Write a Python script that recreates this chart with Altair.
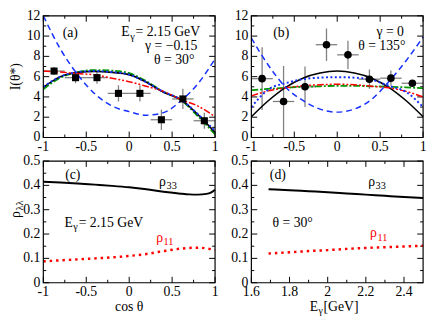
import altair as alt
import pandas as pd

FONT = "'Liberation Serif', 'Times New Roman', serif"

# ---------------- data ----------------
bins = [-0.875, -0.625, -0.375, -0.125, 0.125, 0.375, 0.625, 0.875]
bin_half = [0.125, 0.125, 0.125, 0.125, 0.125, 0.125, 0.125, 0.125]

a_pts_y = [6.55, 5.9, 5.9, 4.35, 4.35, 1.75, 3.8, 1.65]
a_pts_err = [0.4, 0.55, 0.6, 0.8, 0.8, 1.0, 1.0, 0.8]
b_pts_y = [5.8, 3.55, 5.0, 9.15, 8.15, 5.75, 5.85, 5.35]
b_pts_err = [3.1, 3.5, 2.0, 1.6, 1.4, 0.95, 0.75, 0.3]

cos_grid = [-1.0, -0.8, -0.6, -0.4, -0.2, 0.0, 0.2, 0.4, 0.6, 0.8, 1.0]
a_black = [4.95, 6.0, 6.4, 6.5, 6.42, 6.2, 5.45, 4.45, 3.75, 2.25, 0.5]
a_green = [4.75, 5.9, 6.45, 6.65, 6.6, 6.35, 5.55, 4.5, 3.7, 2.1, 0.3]
a_bdot = [5.0, 6.0, 6.45, 6.55, 6.45, 6.2, 5.45, 4.5, 3.75, 2.3, 0.65]
a_red = [6.55, 6.45, 6.3, 6.18, 5.85, 5.5, 5.05, 4.55, 3.75, 3.1, 2.05]
a_bdash = [12.0, 8.7, 6.2, 4.3, 3.1, 2.55, 2.2, 2.45, 3.6, 5.3, 7.75]

b_black = [2.05, 3.65, 4.95, 5.85, 6.35, 6.55, 6.35, 5.85, 4.95, 3.65, 2.05]
b_bdash = [9.8, 7.1, 4.95, 3.65, 2.8, 2.5, 2.8, 3.75, 5.5, 7.55, 9.9]
b_bdot = [3.0, 4.75, 5.35, 5.75, 5.9, 5.95, 5.9, 5.7, 5.1, 4.5, 3.0]
b_red = [4.1, 4.6, 4.9, 5.1, 5.2, 5.25, 5.2, 5.05, 4.9, 4.55, 4.0]
b_green = [4.65, 4.8, 4.9, 5.0, 5.05, 5.1, 5.1, 5.05, 5.0, 4.95, 4.85]

c_grid = [-1.0, -0.8, -0.6, -0.4, -0.2, 0.0, 0.2, 0.4, 0.6, 0.7, 0.8, 0.9, 0.95, 1.0]
c_rho33 = [0.415, 0.412, 0.408, 0.403, 0.398, 0.392, 0.384, 0.374, 0.366, 0.363, 0.362, 0.365, 0.37, 0.382]
c_rho11 = [0.088, 0.092, 0.096, 0.1, 0.104, 0.11, 0.118, 0.13, 0.14, 0.143, 0.144, 0.141, 0.138, 0.134]

d_grid = [1.69, 1.8, 1.9, 2.0, 2.1, 2.2, 2.3, 2.4, 2.5]
d_rho33 = [0.384, 0.38, 0.376, 0.372, 0.367, 0.362, 0.357, 0.352, 0.348]
d_rho11 = [0.12, 0.125, 0.13, 0.134, 0.139, 0.143, 0.146, 0.149, 0.152]

# tick values / labels
cos_major = [-1, -0.5, 0, 0.5, 1]
cos_labels = ["-1", "-0.5", "0", "0.5", "1"]
cos_minor = [-0.75, -0.25, 0.25, 0.75]
i_major = [0, 2, 4, 6, 8, 10, 12]
i_labels = ["0", "2", "4", "6", "8", "10", "12"]
i_minor = [1, 3, 5, 7, 9, 11]
rho_major = [0, 0.1, 0.2, 0.3, 0.4, 0.5]
rho_labels = ["0", "0.1", "0.2", "0.3", "0.4", "0.5"]
rho_minor = [0.05, 0.15, 0.25, 0.35, 0.45]
e_major = [1.6, 1.8, 2.0, 2.2, 2.4]
e_labels = ["1.6", "1.8", "2", "2.2", "2.4"]
e_minor = [1.7, 1.9, 2.1, 2.3]

# ---------------- layout (pixels inside the svg) ----------------
W, H = 428, 310
XL = [36, 211]     # left column
XR = [248, 423]    # right column
YT = [129, 5]      # top row (bottom, top)
YB = [277, 153]    # bottom row
BLUE = "#1530ff"
RED = "#ff0000"
GREEN = "#009a00"
GRAY = "#808080"
MAJ, MIN = 6, 3
FS = 14


def panel(xdom, xr, ydom, yr, xmaj, xlab, xmin, ymaj, ylab, ymin, content):
    xs = alt.Scale(domain=xdom, range=xr, nice=False, zero=False)
    ys = alt.Scale(domain=ydom, range=yr, nice=False, zero=False)
    x0, x1 = xr
    ybot, ytop = yr
    X = lambda f: alt.X(f, scale=xs, axis=None)
    Y = lambda f: alt.Y(f, scale=ys, axis=None)
    layers = []
    for vals, L in ((xmaj, MAJ), (xmin, MIN)):
        base = alt.Chart(pd.DataFrame({"t": vals})).mark_rule(color="black", strokeWidth=1)
        layers.append(base.encode(x=X("t:Q"), y=alt.value(ybot), y2=alt.value(ybot - L)))
        layers.append(base.encode(x=X("t:Q"), y=alt.value(ytop), y2=alt.value(ytop + L)))
    for vals, L in ((ymaj, MAJ), (ymin, MIN)):
        base = alt.Chart(pd.DataFrame({"t": vals})).mark_rule(color="black", strokeWidth=1)
        layers.append(base.encode(y=Y("t:Q"), x=alt.value(x0), x2=alt.value(x0 + L)))
        layers.append(base.encode(y=Y("t:Q"), x=alt.value(x1), x2=alt.value(x1 - L)))
    layers.append(
        alt.Chart(pd.DataFrame({"t": xmaj, "lab": xlab}))
        .mark_text(font=FONT, fontSize=14, baseline="top", align="center")
        .encode(x=X("t:Q"), y=alt.value(ybot + 3), text="lab:N")
    )
    layers.append(
        alt.Chart(pd.DataFrame({"t": ymaj, "lab": ylab}))
        .mark_text(font=FONT, fontSize=14, baseline="middle", align="right")
        .encode(y=Y("t:Q"), x=alt.value(x0 - 3), text="lab:N")
    )
    layers += content(X, Y)
    layers.append(
        alt.Chart(pd.DataFrame({"a": [xdom[0]], "b": [xdom[1]], "c": [ydom[0]], "d": [ydom[1]]}))
        .mark_rect(fillOpacity=0, stroke="black", strokeWidth=1.2)
        .encode(x=X("a:Q"), x2="b", y=Y("c:Q"), y2="d")
    )
    return alt.layer(*layers)


def curve(X, Y, xv, yv, color, width, dash=None):
    props = dict(color=color, strokeWidth=width, interpolate="monotone")
    if dash:
        props["strokeDash"] = dash
    return alt.Chart(pd.DataFrame({"x": xv, "y": yv})).mark_line(**props).encode(x=X("x:Q"), y=Y("y:Q"))


def points(X, Y, yv, err, shape):
    df = pd.DataFrame({
        "x": bins,
        "xl": [b - h for b, h in zip(bins, bin_half)],
        "xh": [b + h for b, h in zip(bins, bin_half)],
        "y": yv,
        "yl": [v - e for v, e in zip(yv, err)],
        "yh": [v + e for v, e in zip(yv, err)],
    })
    base = alt.Chart(df)
    h = base.mark_rule(color=GRAY, strokeWidth=1.3).encode(x=X("xl:Q"), x2="xh", y=Y("y:Q"))
    v = base.mark_rule(color=GRAY, strokeWidth=1.3).encode(x=X("x:Q"), y=Y("yl:Q"), y2="yh")
    if shape == "square":
        p = base.mark_square(size=52, color="black", opacity=1).encode(x=X("x:Q"), y=Y("y:Q"))
    else:
        p = base.mark_circle(size=60, color="black", opacity=1).encode(x=X("x:Q"), y=Y("y:Q"))
    return [h, v], p


def content_a(X, Y):
    bars, p = points(X, Y, a_pts_y, a_pts_err, "square")
    return bars + [
        curve(X, Y, cos_grid, a_green, GREEN, 1.8, [7, 2, 2, 2]),
        curve(X, Y, cos_grid, a_black, "black", 1.6),
        curve(X, Y, cos_grid, a_red, RED, 1.5, [7, 2, 2, 2, 2, 2]),
        curve(X, Y, cos_grid, a_bdash, BLUE, 1.5, [6, 4]),
        curve(X, Y, cos_grid, a_bdot, BLUE, 2, [2, 2.5]),
        p,
    ]


def content_b(X, Y):
    bars, p = points(X, Y, b_pts_y, b_pts_err, "circle")
    return bars + [
        curve(X, Y, cos_grid, b_green, GREEN, 1.8, [7, 2, 2, 2]),
        curve(X, Y, cos_grid, b_black, "black", 1.6),
        curve(X, Y, cos_grid, b_red, RED, 1.5, [7, 2, 2, 2, 2, 2]),
        curve(X, Y, cos_grid, b_bdash, BLUE, 1.5, [6, 4]),
        curve(X, Y, cos_grid, b_bdot, BLUE, 2, [2, 2.5]),
        p,
    ]


def content_c(X, Y):
    return [
        curve(X, Y, c_grid, c_rho33, "black", 2),
        curve(X, Y, c_grid, c_rho11, RED, 2.5, [2.5, 4]),
    ]


def content_d(X, Y):
    return [
        curve(X, Y, d_grid, d_rho33, "black", 2),
        curve(X, Y, d_grid, d_rho11, RED, 2.5, [2.5, 4]),
    ]


pA = panel([-1, 1], XL, [0, 12], YT, cos_major, cos_labels, cos_minor, i_major, i_labels, i_minor, content_a)
pB = panel([-1, 1], XR, [0, 12], YT, cos_major, cos_labels, cos_minor, i_major, i_labels, i_minor, content_b)
pC = panel([-1, 1], XL, [0, 0.5], YB, cos_major, cos_labels, cos_minor, rho_major, rho_labels, rho_minor, content_c)
pD = panel([1.6, 2.5], XR, [0, 0.5], YB, e_major, e_labels, e_minor, rho_major, rho_labels, rho_minor, content_d)

one = pd.DataFrame({"k": [0]})


def txt(s, x, y, size=FS, color="black", align="left", baseline="alphabetic", angle=0):
    props = dict(font=FONT, fontSize=size, color=color, align=align, baseline=baseline)
    if angle:
        props["angle"] = angle
    return alt.Chart(one).mark_text(**props).encode(x=alt.value(x), y=alt.value(y), text=alt.value(s))


ann = [
    # panel (a)
    txt("(a)", 63.5, 26.5, align="center"),
    txt("E", 115.5, 26), txt("γ", 124.5, 29.5, size=10.5), txt(" = 2.15 GeV", 130, 26),
    txt("γ = −0.15", 193, 40, align="right"),
    txt("θ = 30°", 190, 54, align="right"),
    # panel (b)
    txt("(b)", 278.5, 26.5, align="center"),
    txt("γ = 0", 403.5, 26, align="right"),
    txt("θ = 135°", 405, 40, align="right"),
    # panel (c)
    txt("(c)", 66, 171.5, align="center"),
    txt("ρ", 154, 178), txt("33", 161.5, 181.5, size=10.5),
    txt("E", 57.5, 220), txt("γ", 66.5, 223.5, size=10.5), txt(" = 2.15 GeV", 72, 220),
    txt("ρ", 151, 235, color=RED), txt("11", 158.5, 238.5, size=10.5, color=RED),
    # panel (d)
    txt("(d)", 275, 171.5, align="center"),
    txt("ρ", 367, 178), txt("33", 374.5, 181.5, size=10.5),
    txt("θ = 30°", 269.5, 220),
    txt("ρ", 369, 230.5, color=RED), txt("11", 376.5, 234, size=10.5, color=RED),
    # axis titles
    txt("I(θ*)", 8.5, 67, align="center", baseline="middle", angle=270),
    txt("ρ", 12.5, 211, angle=270), txt("λλ", 15.5, 203.5, size=10.5, angle=270),
    txt("cos θ", 123.5, 306, align="center"),
    txt("E", 307.5, 306), txt("γ", 316.5, 308.5, size=10), txt(" [GeV]", 321.5, 306),
]

chart = (
    alt.layer(pA, pB, pC, pD, *ann)
    .resolve_scale(x="independent", y="independent")
    .properties(width=W, height=H, autosize=alt.AutoSizeParams(type="none"), padding=0)
    .configure_view(stroke=None)
)

chart.save("out.html", embed_options={"renderer": "svg", "actions": False})
